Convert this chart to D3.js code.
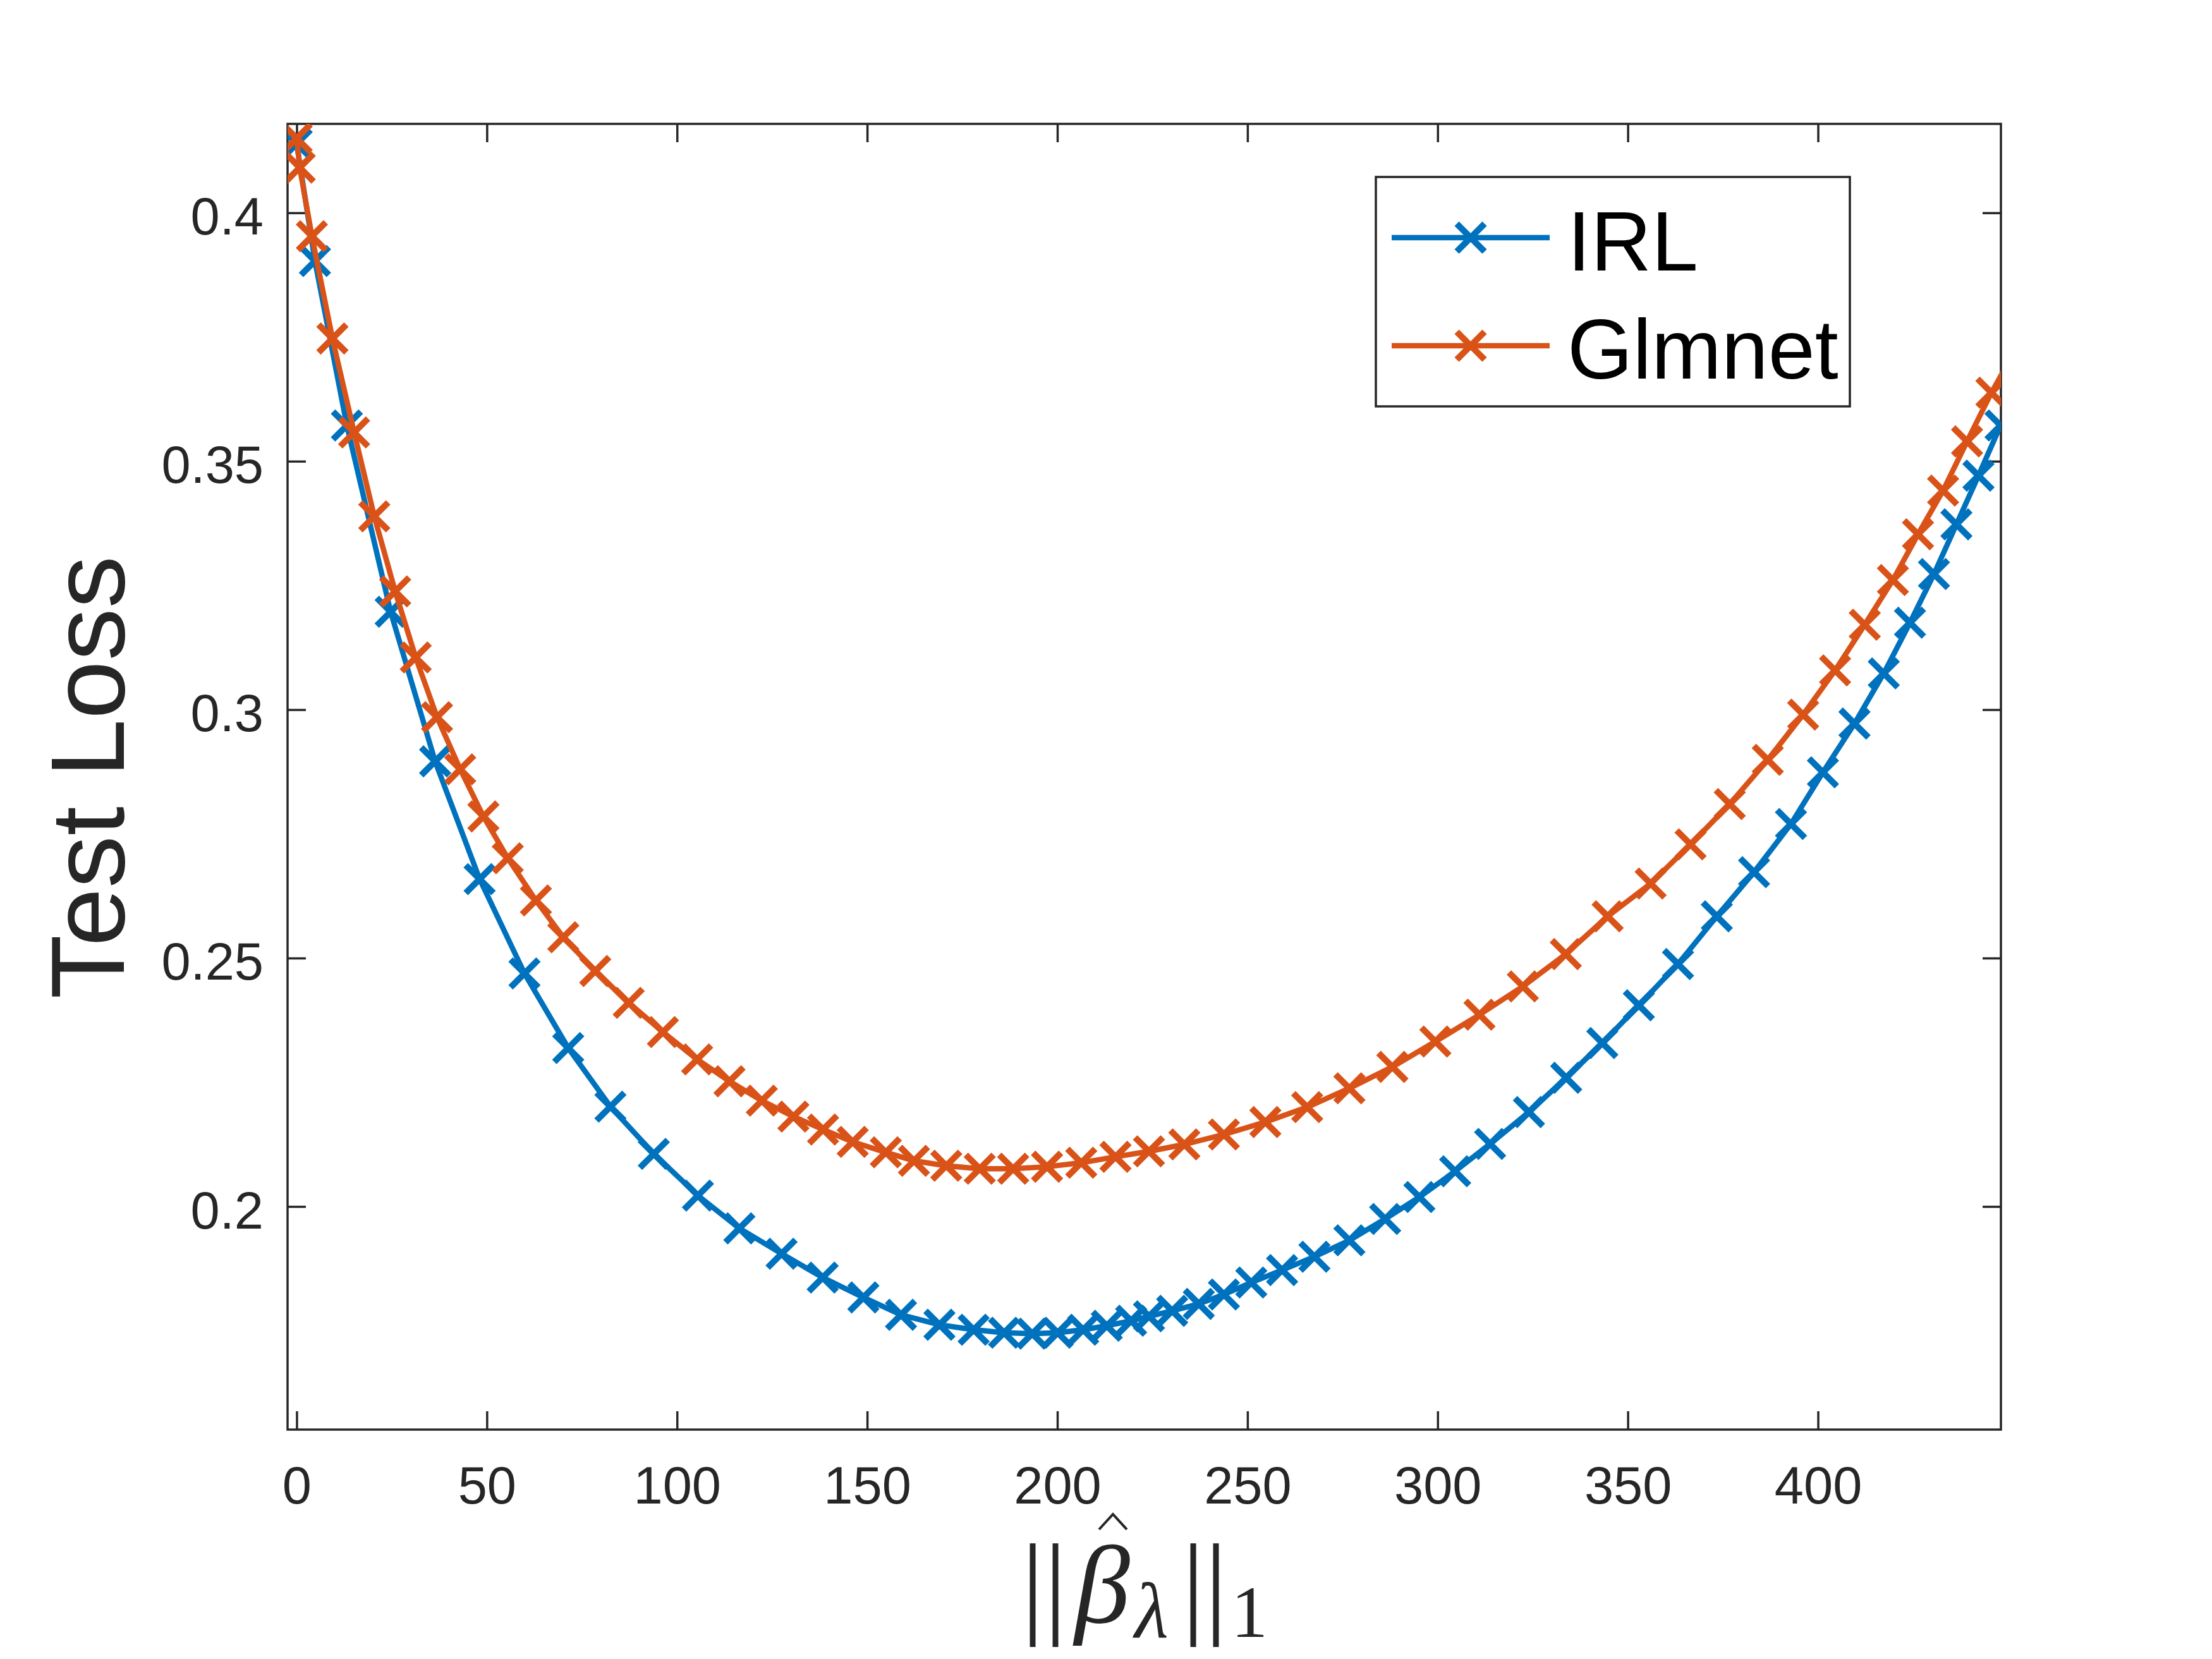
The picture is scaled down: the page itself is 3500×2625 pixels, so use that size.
<!DOCTYPE html>
<html>
<head>
<meta charset="utf-8">
<script src="https://cdn.jsdelivr.net/npm/d3@7"></script>
<style>
    body { margin: 0; background: #ffffff; }
    svg { display: block; }
</style>
</head>
<body>
<div id="chart"></div>
<script>
// series: x = ||beta_lambda||_1, y = test loss
var irlX = [0, 4.8, 13.2, 24.7, 36.4, 48.1, 59.9, 71.4, 82.5, 93.9, 105.5, 116.4, 127.5, 138.3, 149.0,
    158.9, 169.0, 178.0, 186.0, 193.4, 200.1, 206.8, 213.0, 219.4, 224.1, 230.2, 237.2, 243.8, 251.0,
    259.1, 267.6, 276.8, 286.2, 295.2, 304.6, 313.8, 324.0, 333.8, 343.3, 352.9, 363.2, 373.4, 383.2,
    392.9, 401.3, 409.6, 417.3, 424.2, 430.5, 436.4, 442.2, 448.0];
var irlY = [0.4139, 0.3903, 0.3572, 0.3197, 0.2896, 0.2659, 0.2469, 0.2319, 0.2201, 0.2106, 0.2022,
    0.1956, 0.1905, 0.1857, 0.1817, 0.1782, 0.1762, 0.1752, 0.1746, 0.1744, 0.1746, 0.1752, 0.1760,
    0.1770, 0.1779, 0.1790, 0.1804, 0.1823, 0.1847, 0.1872, 0.1899, 0.1932, 0.1975, 0.2019, 0.2071,
    0.2126, 0.2190, 0.2259, 0.2329, 0.2405, 0.2488, 0.2584, 0.2673, 0.2770, 0.2874, 0.2972, 0.3073,
    0.3175, 0.3273, 0.3373, 0.3471, 0.3572];

var glmnetX = [0, 0.8, 4.0, 9.4, 15.1, 20.4, 25.9, 31.3, 36.9, 43.0, 49.1, 55.5, 62.9, 70.1, 78.5,
    87.3, 96.3, 105.3, 113.8, 122.3, 130.6, 138.4, 146.2, 154.9, 162.3, 170.8, 179.6, 188.4, 197.3,
    206.3, 215.3, 224.1, 233.4, 243.8, 254.7, 265.7, 276.8, 288.1, 299.4, 311.0, 322.4, 333.7, 344.7,
    356.0, 366.5, 376.8, 386.8, 396.1, 404.5, 412.3, 419.7, 426.3, 432.9, 439.2, 445.6, 451.0];
var glmnetY = [0.4150, 0.4091, 0.3953, 0.3747, 0.3558, 0.3389, 0.3238, 0.3105, 0.2985, 0.2880,
    0.2785, 0.2701, 0.2616, 0.2542, 0.2474, 0.2410, 0.2351, 0.2296, 0.2252, 0.2213, 0.2181, 0.2155,
    0.2130, 0.2109, 0.2092, 0.2082, 0.2076, 0.2076, 0.2080, 0.2088, 0.2100, 0.2111, 0.2125, 0.2145,
    0.2170, 0.2200, 0.2238, 0.2281, 0.2332, 0.2386, 0.2443, 0.2508, 0.2584, 0.2650, 0.2729, 0.2810,
    0.2899, 0.2990, 0.3079, 0.3171, 0.3261, 0.3353, 0.3441, 0.3540, 0.3638, 0.3712];

var seriesNames = ["IRL", "Glmnet"];
var seriesColors = ["#0072BD", "#D95319"];

var xTicks = [0, 50, 100, 150, 200, 250, 300, 350, 400];
var yTicks = [0.2, 0.25, 0.3, 0.35, 0.4];
var xLimits = [-2.4, 448.1];
var yLimits = [0.1551, 0.4179];

(function () {
    var width = 3500,
        height = 2625,
        box = {left: 455, right: 3166, top: 196, bottom: 2262},
        axisColor = "#262626",
        tickLen = 29,
        lineW = 8.5,
        markW = 10,
        mk = 22;

    var svg = d3.select("#chart").append("svg")
        .attr("width", width)
        .attr("height", height);

    svg.append("rect").attr("width", width).attr("height", height).attr("fill", "#ffffff");

    var x = d3.scaleLinear().domain(xLimits).range([box.left, box.right]);
    var y = d3.scaleLinear().domain(yLimits).range([box.bottom, box.top]);

    svg.append("clipPath").attr("id", "plotClip")
        .append("rect")
        .attr("x", box.left).attr("y", box.top)
        .attr("width", box.right - box.left).attr("height", box.bottom - box.top);

    // axes: bottom/left with labels, top/right only ticks (box on)
    function styleAxis(g) {
        g.select(".domain").remove();
        g.selectAll(".tick line").attr("stroke", axisColor).attr("stroke-width", 3.5);
        g.selectAll(".tick text")
            .attr("fill", axisColor)
            .attr("font-family", "'Liberation Sans', Arial, sans-serif")
            .attr("font-size", 83);
    }

    svg.append("g")
        .attr("transform", "translate(0," + box.bottom + ")")
        .call(d3.axisBottom(x).tickValues(xTicks).tickSize(-tickLen).tickPadding(0).tickFormat(d3.format("d")))
        .call(styleAxis)
        .selectAll(".tick text").attr("dy", null).attr("y", 117);

    svg.append("g")
        .attr("transform", "translate(0," + box.top + ")")
        .call(d3.axisTop(x).tickValues(xTicks).tickSize(-tickLen).tickFormat(""))
        .call(styleAxis);

    svg.append("g")
        .attr("transform", "translate(" + box.left + ",0)")
        .call(d3.axisLeft(y).tickValues(yTicks).tickSize(-tickLen).tickPadding(0).tickFormat(d3.format("")))
        .call(styleAxis)
        .selectAll(".tick text").attr("dy", null).attr("x", -38).attr("y", 34);

    svg.append("g")
        .attr("transform", "translate(" + box.right + ",0)")
        .call(d3.axisRight(y).tickValues(yTicks).tickSize(-tickLen).tickFormat(""))
        .call(styleAxis);

    svg.append("rect")
        .attr("x", box.left).attr("y", box.top)
        .attr("width", box.right - box.left).attr("height", box.bottom - box.top)
        .attr("fill", "none").attr("stroke", axisColor).attr("stroke-width", 3.5);

    // data
    var series = [
        {name: seriesNames[0], color: seriesColors[0], pts: d3.zip(irlX, irlY)},
        {name: seriesNames[1], color: seriesColors[1], pts: d3.zip(glmnetX, glmnetY)}
    ];

    var line = d3.line()
        .x(function (d) { return x(d[0]); })
        .y(function (d) { return y(d[1]); });

    var crossPath = "M" + (-mk) + "," + (-mk) + "L" + mk + "," + mk +
        "M" + (-mk) + "," + mk + "L" + mk + "," + (-mk);

    var plot = svg.append("g").attr("clip-path", "url(#plotClip)");

    series.forEach(function (s) {
        var g = plot.append("g");
        g.append("path")
            .datum(s.pts)
            .attr("d", line)
            .attr("fill", "none")
            .attr("stroke", s.color)
            .attr("stroke-width", lineW)
            .attr("stroke-linejoin", "round");
        g.selectAll("path.mark")
            .data(s.pts.filter(function (d) { return d[0] <= xLimits[1]; }))
            .enter().append("path")
            .attr("class", "mark")
            .attr("transform", function (d) { return "translate(" + x(d[0]) + "," + y(d[1]) + ")"; })
            .attr("d", crossPath)
            .attr("fill", "none")
            .attr("stroke", s.color)
            .attr("stroke-width", markW);
    });

    // legend
    var lg = svg.append("g");
    lg.append("rect")
        .attr("x", 2177).attr("y", 280).attr("width", 750).attr("height", 363)
        .attr("fill", "#ffffff").attr("stroke", axisColor).attr("stroke-width", 3.5);

    series.forEach(function (s, i) {
        var ly = 376 + i * 171;
        lg.append("line")
            .attr("x1", 2202).attr("x2", 2452).attr("y1", ly).attr("y2", ly)
            .attr("stroke", s.color).attr("stroke-width", lineW);
        lg.append("path")
            .attr("transform", "translate(2327," + ly + ")")
            .attr("d", crossPath)
            .attr("fill", "none").attr("stroke", s.color).attr("stroke-width", markW);
        lg.append("text")
            .attr("x", 2480).attr("y", ly + 52)
            .attr("font-family", "'Liberation Sans', Arial, sans-serif")
            .attr("font-size", 133)
            .attr("fill", "#000000")
            .text(s.name);
    });

    // y label
    svg.append("text")
        .attr("transform", "translate(196,1230) rotate(-90)")
        .attr("text-anchor", "middle")
        .attr("font-family", "'Liberation Sans', Arial, sans-serif")
        .attr("font-size", 166)
        .attr("fill", axisColor)
        .text("Test Loss");

    // x label ||beta-hat_lambda||_1, set piece by piece in a serif face
    var xl = svg.append("g")
        .attr("fill", axisColor)
        .attr("font-family", "'Liberation Serif', 'DejaVu Serif', serif");
    xl.append("text").attr("x", 1652).attr("y", 2567).attr("text-anchor", "middle")
        .attr("font-size", 180).text("||");
    xl.append("text").attr("x", 1744).attr("y", 2567).attr("text-anchor", "middle")
        .attr("font-size", 176).attr("font-style", "italic").text("β");
    // the hat over beta is drawn as a stroke so it does not sit on the glyph box
    xl.append("path")
        .attr("d", "M1739,2420L1761,2396L1783,2420")
        .attr("fill", "none").attr("stroke", axisColor).attr("stroke-width", 4);
    xl.append("text").attr("x", 1822).attr("y", 2591).attr("text-anchor", "middle")
        .attr("font-size", 124).attr("font-style", "italic").text("λ");
    xl.append("text").attr("x", 1906).attr("y", 2567).attr("text-anchor", "middle")
        .attr("font-size", 180).text("||");
    xl.append("text").attr("x", 1977).attr("y", 2590).attr("text-anchor", "middle")
        .attr("font-size", 116).text("1");
}());
</script>
</body>
</html>
